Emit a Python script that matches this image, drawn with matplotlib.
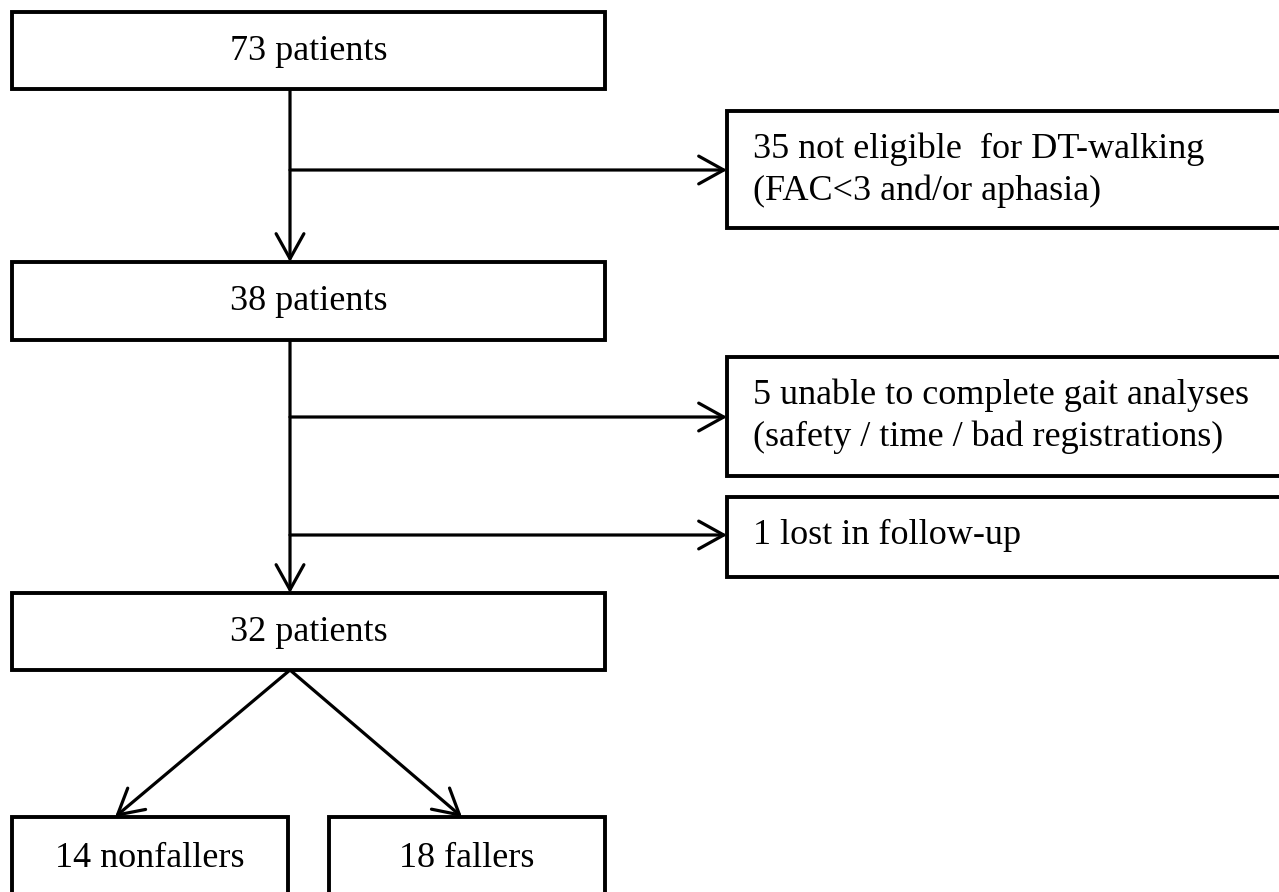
import matplotlib.pyplot as plt
from matplotlib.patches import Rectangle

# flowchart content
main_labels = ["73 patients", "38 patients", "32 patients"]
excluded_labels = [
    ["35 not eligible  for DT-walking", "(FAC<3 and/or aphasia)"],
    ["5 unable to complete gait analyses", "(safety / time / bad registrations)"],
    ["1 lost in follow-up"],
]
outcome_labels = ["14 nonfallers", "18 fallers"]

# layout in pixel units (x, y from top)
main_boxes = [(12, 12, 605, 89), (12, 262, 605, 340), (12, 593, 605, 670)]
excl_boxes = [(727, 111, 1300, 228), (727, 357, 1300, 476), (727, 497, 1300, 577)]
excl_branch_y = [170, 417, 535]
outcome_boxes = [(12, 817, 288, 900), (329, 817, 605, 900)]
outcome_tips = [(115, 817), (462, 817)]
spine_x = 290

W, H = 1279, 892
fig = plt.figure(figsize=(W / 100, H / 100), dpi=100)
ax = fig.add_axes([0, 0, 1, 1])
ax.set_xlim(0, W)
ax.set_ylim(H, 0)
ax.axis("off")

font = dict(family="Liberation Serif", fontsize=26, color="black")
arrow = dict(arrowstyle="->,head_length=0.9,head_width=0.5", lw=2.3,
             color="black", mutation_scale=20, shrinkA=0, shrinkB=0)


def box(x0, y0, x1, y1):
    ax.add_patch(Rectangle((x0, y0), x1 - x0, y1 - y0, facecolor="white",
                           edgecolor="black", lw=2.8, zorder=2))


# main column
for (x0, y0, x1, y1), lab in zip(main_boxes, main_labels):
    box(x0, y0, x1, y1)
    ax.text((x0 + x1) / 2, y0 + 48, lab, ha="center", va="baseline", zorder=3, **font)

for i in range(2):
    ax.annotate("", xy=(spine_x, main_boxes[i + 1][1]), xytext=(spine_x, main_boxes[i][3]),
                arrowprops=arrow, zorder=1)

# exclusions
for (x0, y0, x1, y1), lines, by in zip(excl_boxes, excluded_labels, excl_branch_y):
    box(x0, y0, x1, y1)
    for k, line in enumerate(lines):
        ax.text(753, y0 + 47 + 42 * k, line, ha="left", va="baseline", zorder=3, **font)
    ax.annotate("", xy=(x0, by), xytext=(spine_x, by), arrowprops=arrow, zorder=1)

# outcome
for (x0, y0, x1, y1), lab, tip in zip(outcome_boxes, outcome_labels, outcome_tips):
    box(x0, y0, x1, y1)
    ax.text((x0 + x1) / 2, y0 + 50, lab, ha="center", va="baseline", zorder=3, **font)
    ax.annotate("", xy=tip, xytext=(spine_x, main_boxes[2][3]), arrowprops=arrow, zorder=1)

plt.savefig("out.png", dpi=100)
